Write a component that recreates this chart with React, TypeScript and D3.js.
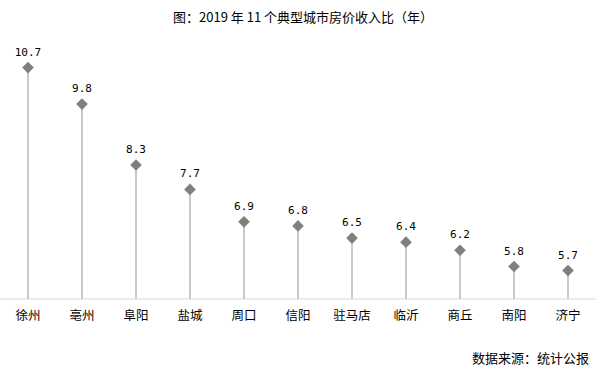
import React from "react";
import * as d3 from "d3";

const cities = ["徐州", "亳州", "阜阳", "盐城", "周口", "信阳", "驻马店", "临沂", "商丘", "南阳", "济宁"];
const ratios = [10.7, 9.8, 8.3, 7.7, 6.9, 6.8, 6.5, 6.4, 6.2, 5.8, 5.7];
const titleText = "图：2019 年 11 个典型城市房价收入比（年）";
const sourceText = "数据来源：统计公报";

export default function App() {
  const W = 607, H = 379;
  const x = d3.scaleBand<string>().domain(cities).range([1, 595]).padding(0);
  const y = d3.scaleLinear().domain([5, 12]).range([299, 14.8]);
  const font = "'Noto Sans CJK SC', 'DejaVu Sans', sans-serif";
  const diamond = d3.symbol().type(d3.symbolSquare).size(68)();
  return (
    <svg width={W} height={H} style={{ position: "absolute", left: 0, top: 0, background: "#fff" }}>
      <text x={303} y={22} textAnchor="middle" fontFamily={font} fontSize={13} fill="#000">{titleText}</text>
      <line x1={0} x2={596} y1={y(5)} y2={y(5)} stroke="#d9d9d9" strokeWidth={1} />
      {cities.map((c, i) => {
        const cx = (x(c) as number) + x.bandwidth() / 2;
        const v = ratios[i];
        return (
          <g key={c}>
            <line x1={cx} x2={cx} y1={y(5)} y2={y(v)} stroke="#a6a6a6" strokeWidth={1.2} />
            <path d={diamond as string} transform={`translate(${cx},${y(v)}) rotate(45)`} fill="#7f7f7f" />
            <text x={cx} y={y(v) - 12} textAnchor="middle" fontFamily="'DejaVu Sans Mono', monospace" fontSize={11} fill="#000">{v.toFixed(1)}</text>
            <text x={cx} y={y(5) + 21} textAnchor="middle" fontFamily={font} fontSize={12.5} fill="#000">{c}</text>
          </g>
        );
      })}
      <text x={589} y={363} textAnchor="end" fontFamily={font} fontSize={13} fill="#000">{sourceText}</text>
    </svg>
  );
}
